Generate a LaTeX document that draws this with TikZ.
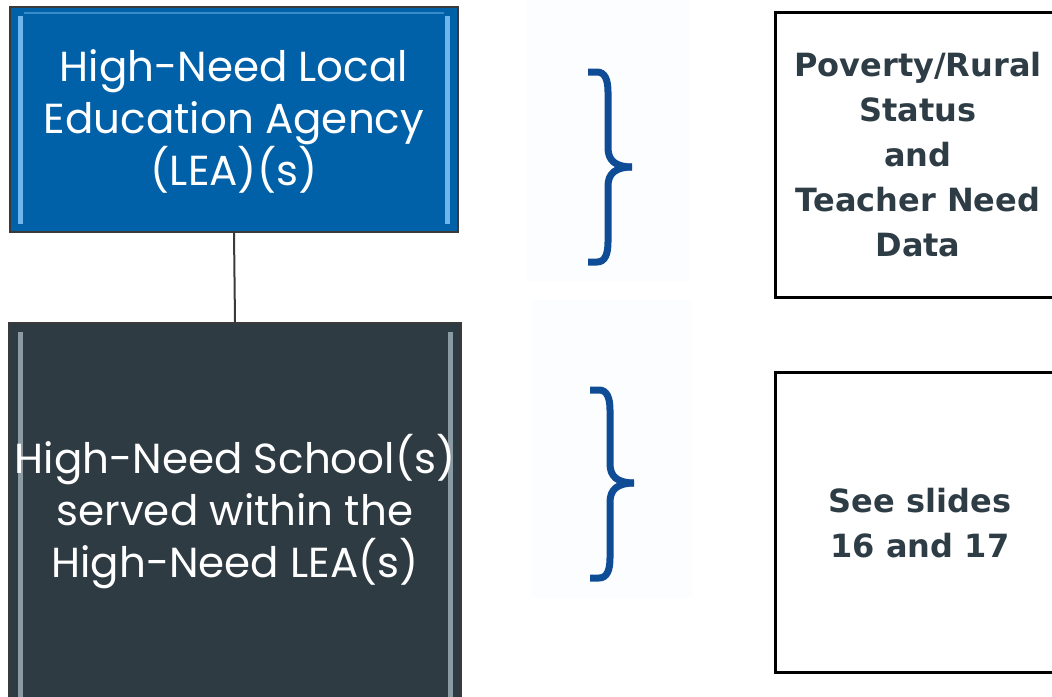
\documentclass[tikz,border=0pt]{standalone}
\usepackage{fontspec}
\setmainfont{Poppins}
\newfontfamily\rightfont{DejaVu Sans}
\definecolor{leablue}{HTML}{0060A8}
\definecolor{leablueL}{HTML}{6FB6EE}
\definecolor{schdark}{HTML}{2E3B43}
\definecolor{schL}{HTML}{8A9BA3}
\definecolor{bordergray}{HTML}{3A3A3A}
\definecolor{bracecol}{HTML}{0F4C96}
\definecolor{txtdark}{HTML}{2E3D45}
\definecolor{faint}{HTML}{FCFDFE}
\tikzset{
  leftbox/.style={draw=bordergray, line width=2pt, inner sep=0pt},
  lefttext/.style={text=white, align=center, font=\fontsize{42}{52}\selectfont},
  rightbox/.style={draw=black, line width=3pt, inner sep=0pt},
  righttext/.style={text=txtdark, align=center, font=\rightfont\bfseries\fontsize{32}{45}\selectfont},
  brace/.style={draw=bracecol, line width=7pt, line cap=butt, line join=round},
  link/.style={draw=bordergray, line width=2pt}
}
\begin{document}
\begin{tikzpicture}[x=1pt,y=-1pt]
\useasboundingbox (0,0) rectangle (1052,696);
% faint backgrounds behind braces
\fill[faint] (527,0) rectangle (690,282);
\fill[faint] (532,300) rectangle (692,598);
% boxes
\node[leftbox, fill=leablue, minimum width=448pt, minimum height=225pt] (lea) at (234,119.5) {};
\fill[leablueL] (18,16) rectangle (23,224);
\fill[leablueL] (445,16) rectangle (450,224);
\fill[leablueL!50!leablue] (24,12) rectangle (444,14);
\node[lefttext] (leat) at (234,121) {High-Need Local\\Education Agency\\(LEA)(s)};
\node[leftbox, fill=schdark, minimum width=452pt, minimum height=380pt, anchor=north] (sch) at (235,322) {};
\fill[schL] (18,332) rectangle (23,700);
\fill[schL] (448,332) rectangle (453,700);
\node[lefttext] (scht) at (235,512) {High-Need School(s)\\served within the\\High-Need LEA(s)};
\draw[link] (lea.south) -- (sch.north);
% braces
\draw[brace] (588,72) -- (597,72) .. controls (605,72) and (608,80) .. (608,92) -- (608,148)
  .. controls (608,160) and (615,167) .. (632,167);
\draw[brace] (632,167) .. controls (615,167) and (608,174) .. (608,186) -- (608,242)
  .. controls (608,254) and (605,262) .. (597,262) -- (588,262);
\draw[brace] (590,390) -- (599,390) .. controls (607,390) and (610,398) .. (610,410) -- (610,464)
  .. controls (610,476) and (617,483) .. (634,483);
\draw[brace] (634,483) .. controls (617,483) and (610,490) .. (610,502) -- (610,558)
  .. controls (610,570) and (607,578) .. (599,578) -- (590,578);
% right boxes
\node[rightbox, minimum width=300pt, minimum height=285pt, anchor=north west] (pov) at (774,10.5) {};
\node[rightbox, minimum width=300pt, minimum height=300pt, anchor=north west] (see) at (774,370.5) {};
\node[righttext] (povt) at (918,155) {Poverty/Rural\\Status\\and\\Teacher Need\\Data};
\node[righttext] (seet) at (920,523) {See slides\\16 and 17};
\end{tikzpicture}
\end{document}
